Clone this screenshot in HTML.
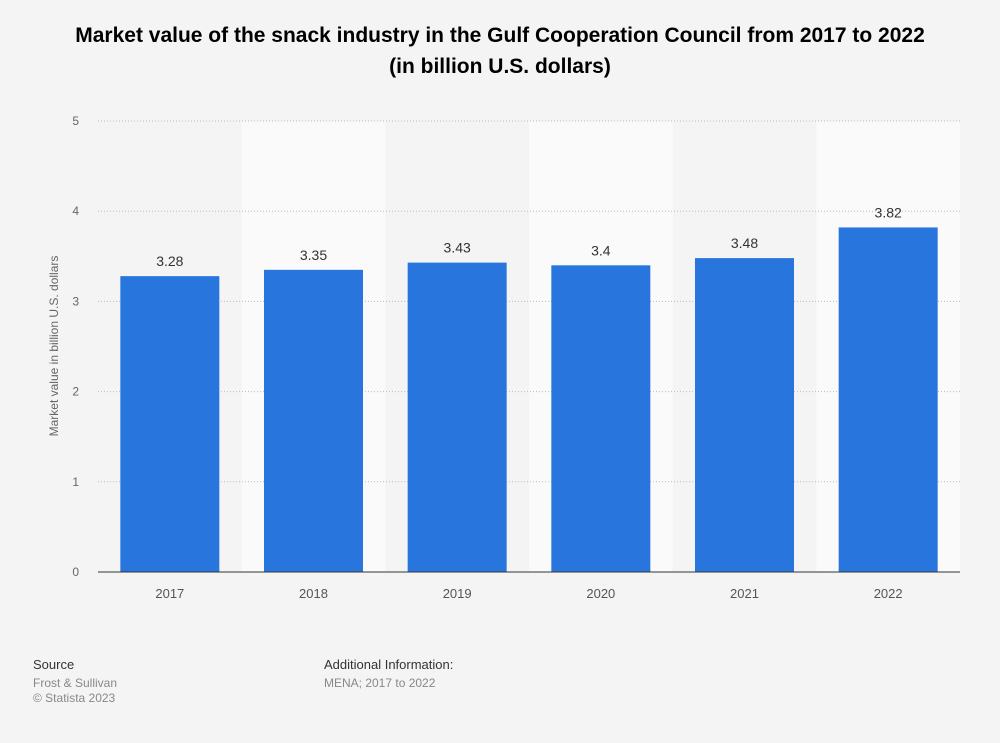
<!DOCTYPE html>
<html><head><meta charset="utf-8"><style>
body{margin:0;width:1000px;height:743px;background:#f4f4f4;font-family:"Liberation Sans",Arial,sans-serif;overflow:hidden;position:relative}
.t{position:absolute;left:0;width:1000px;text-align:center;font-weight:bold;font-size:21px;color:#000}
.f{position:absolute;font-size:12px;color:#888}
</style></head><body>
<div class="t" style="top:24px">Market value of the snack industry in the Gulf Cooperation Council from 2017 to 2022</div>
<div class="t" style="top:55px">(in billion U.S. dollars)</div>
<svg id="c" width="1000" height="743" style="position:absolute;left:0;top:0"></svg>
<div class="f" style="left:33px;top:657px;color:#333;font-size:13px">Source</div>
<div class="f" style="left:33px;top:676px">Frost &amp; Sullivan</div>
<div class="f" style="left:33px;top:691px">© Statista 2023</div>
<div class="f" style="left:324px;top:657px;color:#333;font-size:13px">Additional Information:</div>
<div class="f" style="left:324px;top:676px">MENA; 2017 to 2022</div>
<script>
const categories=["2017","2018","2019","2020","2021","2022"];
const values=[3.28,3.35,3.43,3.4,3.48,3.82];
const labels=["3.28","3.35","3.43","3.4","3.48","3.82"];
const yTicks=[0,1,2,3,4,5];
const svg=document.getElementById('c');const NS="http://www.w3.org/2000/svg";
const x0=98,x1=960,y0=572,y1=121,ymax=5;
const bw=(x1-x0)/categories.length;
const y=v=>y0-(v/ymax)*(y0-y1);
const xb=i=>x0+i*bw;
function el(t,a){const e=document.createElementNS(NS,t);for(const k in a)e.setAttribute(k,a[k]);svg.appendChild(e);return e;}
categories.forEach((c,i)=>{if(i%2==1){const r=el('rect',{x:xb(i),y:y1,width:bw,height:y0-y1,fill:'#fafafa'});

}});
yTicks.forEach(t=>{if(t>0){const l=el('line',{x1:x0,x2:x1,y1:y(t),y2:y(t),stroke:'#bbb','stroke-dasharray':'1,2'});

}
const tx=el('text',{x:79,y:y(t)+4,'text-anchor':'end','font-size':12,fill:'#666'});tx.textContent=t;

});
categories.forEach((c,i)=>{const cx=xb(i)+bw/2,w=99;
const r=el('rect',{x:cx-w/2,y:y(values[i]),width:w,height:y0-y(values[i]),fill:'#2876dd'});


const v=el('text',{x:cx,y:y(values[i])-10,'text-anchor':'middle','font-size':14,fill:'#333'});v.textContent=labels[i];


const xt=el('text',{x:cx,y:598,'text-anchor':'middle','font-size':13,fill:'#555'});xt.textContent=c;

});
const ax=el('line',{x1:x0,x2:x1,y1:y0,y2:y0,stroke:'#333','stroke-width':1});


const yt=el('text',{x:0,y:0,'text-anchor':'middle','font-size':12,fill:'#666',transform:'translate(58,346) rotate(-90)'});yt.textContent='Market value in billion U.S. dollars';


</script>
</body></html>
